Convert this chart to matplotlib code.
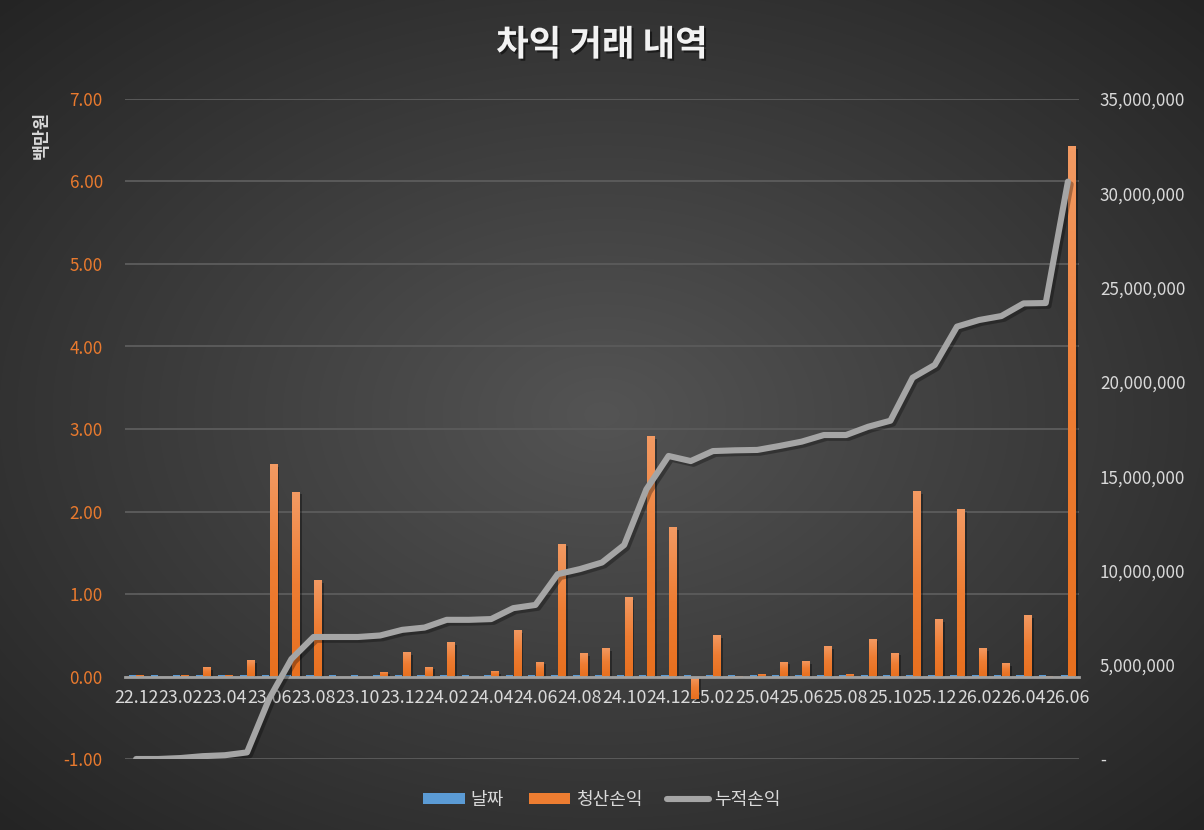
import numpy as np
import matplotlib
matplotlib.use("Agg")
import matplotlib.pyplot as plt
import matplotlib.patheffects as pe
from matplotlib.patches import Patch
from matplotlib.lines import Line2D
from matplotlib.colors import LinearSegmentedColormap
from matplotlib.ticker import FuncFormatter, MultipleLocator

plt.rcParams['font.family'] = ['Noto Sans CJK KR', 'DejaVu Sans']

# ---------------- data ----------------
months = ['22.12',
          '23.01', '23.02', '23.03', '23.04', '23.05', '23.06',
          '23.07', '23.08', '23.09', '23.10', '23.11', '23.12',
          '24.01', '24.02', '24.03', '24.04', '24.05', '24.06',
          '24.07', '24.08', '24.09', '24.10', '24.11', '24.12',
          '25.01', '25.02', '25.03', '25.04', '25.05', '25.06',
          '25.07', '25.08', '25.09', '25.10', '25.11', '25.12',
          '26.01', '26.02', '26.03', '26.04', '26.05', '26.06']

# 날짜 series (tiny, shows as a thin blue sliver at zero)
dates_series = [0.015] * 43

# 청산손익 (백만원)
pnl = [0.02,
       0.00, 0.02, 0.11, 0.02, 0.20, 2.57,
       2.24, 1.17, 0.00, 0.00, 0.06, 0.30,
       0.12, 0.42, 0.00, 0.07, 0.56, 0.18,
       1.61, 0.28, 0.34, 0.96, 2.91, 1.81,
       -0.27, 0.50, 0.01, 0.03, 0.18, 0.19,
       0.37, 0.03, 0.46, 0.29, 2.25, 0.70,
       2.03, 0.34, 0.16, 0.74, 0.01, 6.43]

# 누적손익 (원)
cumulative = [0,
              0, 50000, 150000, 200000, 350000, 3200000,
              5300000, 6470000, 6470000, 6470000, 6550000, 6850000,
              6970000, 7380000, 7380000, 7420000, 8000000, 8170000,
              9800000, 10070000, 10420000, 11350000, 14300000, 16070000,
              15800000, 16330000, 16370000, 16390000, 16600000, 16830000,
              17180000, 17180000, 17620000, 17940000, 20220000, 20900000,
              22930000, 23280000, 23490000, 24160000, 24180000, 30620000]

series_names = ['날짜', '청산손익', '누적손익']
title = '차익 거래 내역'
ylabel = '백만원'

# ---------------- figure ----------------
W, H = 1204, 830
fig = plt.figure(figsize=(W / 100, H / 100), dpi=100)

# radial background gradient
bg = fig.add_axes([0, 0, 1, 1], zorder=-10)
yy, xx = np.mgrid[0:1:H * 1j, 0:1:W * 1j]
d = np.sqrt((xx - 0.5) ** 2 + (yy - 0.5) ** 2) / np.sqrt(0.5)
val = (84 - 48 * d) / 255.0
img = np.dstack([val, val, val])
bg.imshow(img, aspect='auto', extent=[0, 1, 0, 1], origin='lower')
bg.axis('off')

left, right_px, top_px, bottom_px = 125, 1079, 99, 759
ax = fig.add_axes([left / W, 1 - bottom_px / H, (right_px - left) / W, (bottom_px - top_px) / H])
ax.patch.set_alpha(0)

x = np.arange(len(months))
orange = '#ED7D31'
blue = '#5B9BD5'
gray = '#A5A5A5'

bar_shadow = [pe.SimplePatchShadow(offset=(2, -2), shadow_rgbFace='black', alpha=0.35), pe.Normal()]

b1 = ax.bar(x - 0.16, dates_series, width=0.32, color=blue, zorder=2)
b2 = ax.bar(x + 0.175, pnl, width=0.32, color=orange, zorder=2)

ax.set_xlim(-0.5, len(months) - 0.5)
ax.set_ylim(-1, 7)

# vertical gradient fill on the orange bars (lighter at the top, as in Excel)
grad_cmap = LinearSegmentedColormap.from_list('og', ['#E8701F', '#EE7D33', '#F39A63'])
grad = np.linspace(0, 1, 64).reshape(-1, 1)
for p in list(b2):
    p.set_path_effects(bar_shadow)
    bx, by = p.get_x(), p.get_y()
    bw, bh = p.get_width(), p.get_height()
    if bh == 0:
        continue
    y_lo, y_hi = min(by, by + bh), max(by, by + bh)
    im = ax.imshow(grad, cmap=grad_cmap, aspect='auto', origin='lower',
                   extent=[bx, bx + bw, y_lo, y_hi], zorder=2.1, interpolation='bilinear')
    im.set_clip_path(p)

ax.set_xlim(-0.5, len(months) - 0.5)
ax.set_ylim(-1, 7)
ax.set_aspect('auto')
ax.yaxis.set_major_locator(MultipleLocator(1))
ax.yaxis.set_major_formatter(FuncFormatter(lambda v, p: f'{v:.2f}'))
ax.yaxis.grid(True, color='#5A5A5A', lw=1.4)
ax.set_axisbelow(True)

for s in ['top', 'right', 'left']:
    ax.spines[s].set_visible(False)
ax.spines['bottom'].set_position(('data', 0))
ax.spines['bottom'].set_color('#A0A0A0')
ax.spines['bottom'].set_linewidth(2)
ax.spines['bottom'].set_zorder(3)

ax.set_xticks(x[::2])
ax.set_xticklabels(months[::2])
ax.tick_params(axis='x', length=0, pad=9, labelsize=12.8, labelcolor='#D9D9D9')
ax.tick_params(axis='y', length=0, pad=16, labelsize=12.3, labelcolor='#E97A2E')

ax2 = ax.twinx()
ax2.set_ylim(0, 35e6)
ax2.yaxis.set_major_locator(MultipleLocator(5e6))
ax2.yaxis.set_major_formatter(FuncFormatter(lambda v, p: '-' if v == 0 else f'{int(v):,}'))
ax2.tick_params(axis='y', length=0, pad=15, labelsize=12.3, labelcolor='#D9D9D9')
for s in ax2.spines.values():
    s.set_visible(False)

ax2.plot(x, cumulative, color=gray, lw=4.4, solid_capstyle='round', solid_joinstyle='round',
         path_effects=[pe.SimpleLineShadow(offset=(2, -2), shadow_color='black', alpha=0.3), pe.Normal()],
         zorder=5)

# title & axis label
fig.text(0.5, 1 - 45 / H, title, ha='center', va='center', fontsize=25.5, fontweight='bold',
         color='#F2F2F2',
         path_effects=[pe.SimplePatchShadow(offset=(1.5, -1.5), shadow_rgbFace='black', alpha=0.5), pe.Normal()])
fig.text(42 / W, 1 - 135 / H, ylabel, rotation=90, ha='center', va='center', fontsize=12.5,
         fontweight='bold', color='#D9D9D9')

# legend
handles = [Patch(facecolor=blue, edgecolor='none'),
           Patch(facecolor=orange, edgecolor='none'),
           Line2D([0], [0], color=gray, lw=4.4, solid_capstyle='round')]
fig.legend(handles, series_names, loc='center', bbox_to_anchor=(0.5, 1 - 800 / H), ncol=3,
           frameon=False, fontsize=13, labelcolor='#D9D9D9', handlelength=2.3,
           handleheight=0.5, handletextpad=0.3, columnspacing=1.4)

fig.savefig('out.png', dpi=100)
